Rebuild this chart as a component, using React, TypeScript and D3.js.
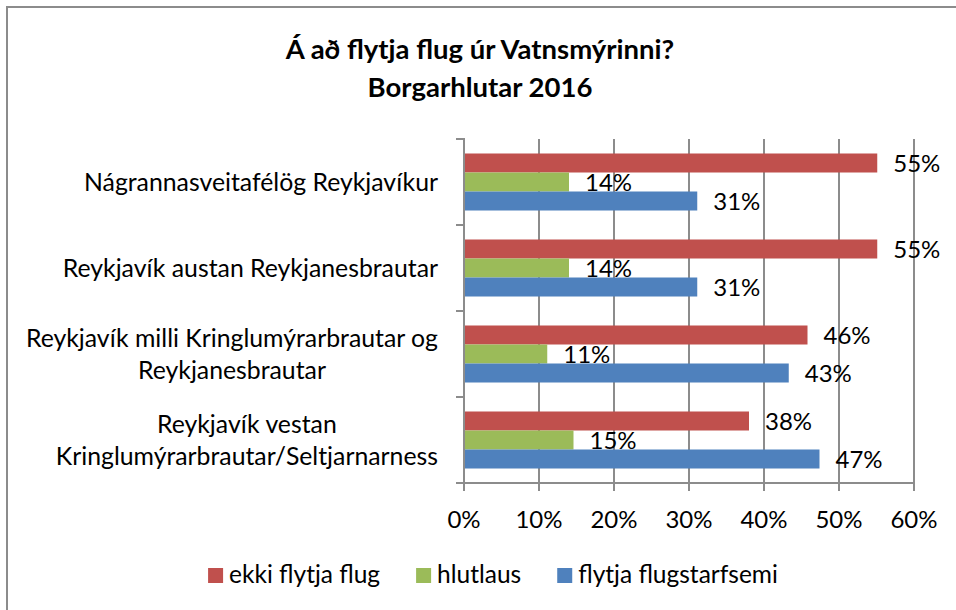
import React, { useEffect, useRef } from 'react';
import * as d3 from 'd3';

const titleLines = ["Á að flytja flug úr Vatnsmýrinni?", "Borgarhlutar 2016"];

// category labels, one entry per line
const categories = [
  ["Nágrannasveitafélög Reykjavíkur"],
  ["Reykjavík austan Reykjanesbrautar"],
  ["Reykjavík milli Kringlumýrarbrautar og", "Reykjanesbrautar"],
  ["Reykjavík vestan", "Kringlumýrarbrautar/Seltjarnarness"],
];

const seriesNames = ["ekki flytja flug", "hlutlaus", "flytja flugstarfsemi"];
const seriesColors = ["#C0504D", "#9BBB59", "#4F81BD"];

// percent values per category (same order as categories)
const ekkiFlytja = [55.1, 55.1, 45.8, 38.0];
const hlutlaus = [14.0, 14.0, 11.1, 14.6];
const flytjaFlug = [31.1, 31.1, 43.3, 47.4];

const xTicks = [0, 10, 20, 30, 40, 50, 60];

const FONT = "Lato, 'Open Sans', sans-serif";

export default function App() {
  const svgRef = useRef<SVGSVGElement>(null);

  useEffect(() => {
    if (!svgRef.current) return;
    document.body.style.margin = "0";
    const svg = d3.select(svgRef.current);
    svg.selectAll("*").remove();

    const series = [ekkiFlytja, hlutlaus, flytjaFlug];

    const x = d3.scaleLinear().domain([0, 60]).range([464, 914]);
    const y = d3.scaleBand<number>()
      .domain(categories.map((_, i) => i))
      .range([139, 483]);
    const ySeries = d3.scaleBand<number>()
      .domain(series.map((_, i) => i))
      .range([0, y.bandwidth()])
      .paddingInner(0)
      .paddingOuter(0.763);

    // chart frame (right and bottom edges sit outside the picture)
    svg.append("rect")
      .attr("x", 7).attr("y", 7)
      .attr("width", 1000).attr("height", 1000)
      .attr("fill", "#fff")
      .attr("stroke", "#8c8c8c")
      .attr("stroke-width", 2);

    // title
    svg.append("g")
      .selectAll("text")
      .data(titleLines)
      .join("text")
      .attr("x", 480)
      .attr("y", (_, i) => 59 + i * 38)
      .attr("text-anchor", "middle")
      .attr("font-family", FONT)
      .attr("font-weight", "bold")
      .attr("font-size", 27.5)
      .attr("fill", "#000")
      .text(d => d);

    // gridlines
    const grid = svg.append("g").attr("stroke", "#8c8c8c").attr("stroke-width", 2);
    grid.selectAll("line.grid")
      .data(xTicks.slice(1))
      .join("line")
      .attr("class", "grid")
      .attr("x1", d => x(d)).attr("x2", d => x(d))
      .attr("y1", 139).attr("y2", 483);

    // bars
    series.forEach((vals, si) => {
      svg.append("g")
        .attr("fill", seriesColors[si])
        .selectAll("rect")
        .data(vals)
        .join("rect")
        .attr("x", x(0))
        .attr("y", (_, ci) => (y(ci) ?? 0) + (ySeries(si) ?? 0))
        .attr("width", d => x(d) - x(0))
        .attr("height", ySeries.bandwidth());

      svg.append("g")
        .selectAll("text")
        .data(vals)
        .join("text")
        .attr("x", d => x(d) + 16)
        .attr("y", (_, ci) => (y(ci) ?? 0) + (ySeries(si) ?? 0) + ySeries.bandwidth() - 0.5)
        .attr("font-family", FONT)
        .attr("font-size", 24)
        .attr("fill", "#000")
        .text(d => Math.round(d) + "%");
    });

    // axes
    const axes = svg.append("g").attr("stroke", "#8c8c8c").attr("stroke-width", 2);
    axes.append("line")
      .attr("x1", x(0)).attr("x2", x(0))
      .attr("y1", 138).attr("y2", 484);
    axes.append("line")
      .attr("x1", x(0) - 8).attr("x2", x(60) + 1)
      .attr("y1", 483).attr("y2", 483);
    const bounds = [...categories.map((_, i) => y(i) ?? 0), 483];
    axes.selectAll("line.ytick")
      .data(bounds)
      .join("line")
      .attr("class", "ytick")
      .attr("x1", x(0) - 8).attr("x2", x(0))
      .attr("y1", d => d).attr("y2", d => d);
    axes.selectAll("line.xtick")
      .data(xTicks)
      .join("line")
      .attr("class", "xtick")
      .attr("x1", d => x(d)).attr("x2", d => x(d))
      .attr("y1", 483).attr("y2", 491);

    svg.append("g")
      .selectAll("text")
      .data(xTicks)
      .join("text")
      .attr("x", d => x(d))
      .attr("y", 528)
      .attr("text-anchor", "middle")
      .attr("font-family", FONT)
      .attr("font-size", 24)
      .attr("fill", "#000")
      .text(d => d + "%");

    // category labels: block right-aligned, lines centred within block
    const lineH = 32;
    categories.forEach((lines, ci) => {
      const cy = (y(ci) ?? 0) + y.bandwidth() / 2;
      const g = svg.append("g");
      const texts = g.selectAll("text")
        .data(lines)
        .join("text")
        .attr("y", (_, li) => cy + 8.5 + (li - (lines.length - 1) / 2) * lineH)
        .attr("text-anchor", "middle")
        .attr("font-family", FONT)
        .attr("font-size", 24.8)
        .attr("fill", "#000")
        .text(d => d);
      let maxW = 0;
      texts.each(function () {
        maxW = Math.max(maxW, (this as SVGTextElement).getComputedTextLength());
      });
      texts.attr("x", 438 - maxW / 2);
    });

    // legend
    const legend = svg.append("g");
    let lx = 0;
    seriesNames.forEach((name, si) => {
      legend.append("rect")
        .attr("x", lx).attr("y", 568)
        .attr("width", 15).attr("height", 15)
        .attr("fill", seriesColors[si]);
      const t = legend.append("text")
        .attr("x", lx + 21)
        .attr("y", 583)
        .attr("font-family", FONT)
        .attr("font-size", 24.5)
        .attr("fill", "#000")
        .text(name);
      const w = (t.node() as SVGTextElement).getComputedTextLength();
      lx += 21 + w + (si < seriesNames.length - 1 ? 36 : 0);
    });
    legend.attr("transform", `translate(${493 - lx / 2},0)`);
  }, []);

  return (
    <svg ref={svgRef} width={956} height={610} style={{ display: "block" }} />
  );
}
